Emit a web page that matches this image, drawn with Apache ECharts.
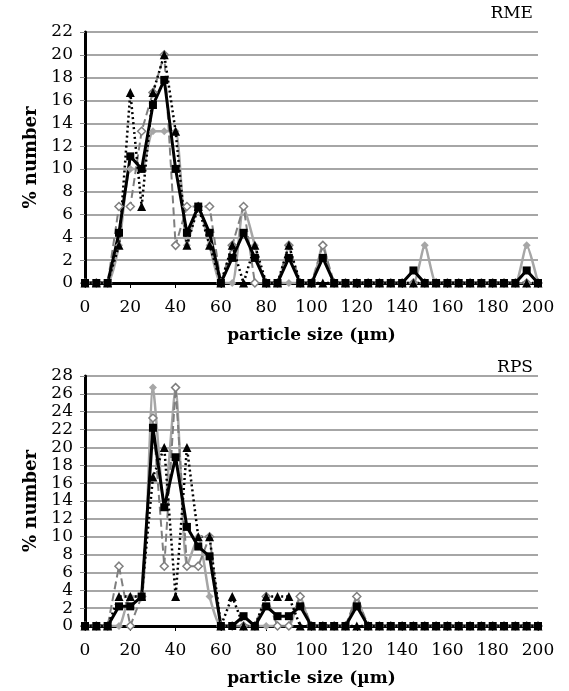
<!DOCTYPE html>
<html>
<head>
<meta charset="utf-8">
<script src="https://cdn.jsdelivr.net/npm/echarts@6/dist/echarts.min.js"></script>
<style>
  html, body { margin: 0; padding: 0; background: #fff; }
  #chart { width: 569px; height: 691px; }
</style>
</head>
<body>
<div id="chart"></div>
<script>
// particle size bins (µm)
const sizes = [0, 5, 10, 15, 20, 25, 30, 35, 40, 45, 50, 55, 60, 65, 70, 75, 80, 85, 90, 95, 100,
  105, 110, 115, 120, 125, 130, 135, 140, 145, 150, 155, 160, 165, 170, 175, 180, 185, 190, 195, 200];
const xTicks = [0, 20, 40, 60, 80, 100, 120, 140, 160, 180, 200];

// RME
const rmeA = [0, 0, 0, 3.3, 10, 10, 13.3, 13.3, 13.3, 3.3, 6.7, 3.3, 0, 0, 6.7, 3.3, 0, 0, 0, 0, 0,
  3.3, 0, 0, 0, 0, 0, 0, 0, 0, 3.3, 0, 0, 0, 0, 0, 0, 0, 0, 3.3, 0];
const rmeB = [0, 0, 0, 6.7, 6.7, 13.3, 16.7, 20, 3.3, 6.7, 6.7, 6.7, 0, 3.3, 6.7, 0, 0, 0, 3.3, 0, 0,
  3.3, 0, 0, 0, 0, 0, 0, 0, 0, 0, 0, 0, 0, 0, 0, 0, 0, 0, 0, 0];
const rmeC = [0, 0, 0, 3.3, 16.7, 6.7, 16.7, 20, 13.3, 3.3, 6.7, 3.3, 0, 3.3, 0, 3.3, 0, 0, 3.3, 0, 0,
  0, 0, 0, 0, 0, 0, 0, 0, 0, 0, 0, 0, 0, 0, 0, 0, 0, 0, 0, 0];
const rmeMean = [0, 0, 0, 4.4, 11.1, 10, 15.6, 17.8, 10, 4.4, 6.7, 4.4, 0, 2.2, 4.4, 2.2, 0, 0, 2.2, 0, 0,
  2.2, 0, 0, 0, 0, 0, 0, 0, 1.1, 0, 0, 0, 0, 0, 0, 0, 0, 0, 1.1, 0];

// RPS
const rpsA = [0, 0, 0, 0, 3.3, 3.3, 26.7, 13.3, 26.7, 6.7, 10, 3.3, 0, 0, 0, 0, 0, 0, 0, 3.3, 0,
  0, 0, 0, 3.3, 0, 0, 0, 0, 0, 0, 0, 0, 0, 0, 0, 0, 0, 0, 0, 0];
const rpsB = [0, 0, 0, 6.7, 0, 3.3, 23.3, 6.7, 26.7, 6.7, 6.7, 10, 0, 0, 0, 0, 3.3, 0, 0, 3.3, 0,
  0, 0, 0, 3.3, 0, 0, 0, 0, 0, 0, 0, 0, 0, 0, 0, 0, 0, 0, 0, 0];
const rpsC = [0, 0, 0, 3.3, 3.3, 3.3, 16.7, 20, 3.3, 20, 10, 10, 0, 3.3, 0, 0, 3.3, 3.3, 3.3, 0, 0,
  0, 0, 0, 0, 0, 0, 0, 0, 0, 0, 0, 0, 0, 0, 0, 0, 0, 0, 0, 0];
const rpsMean = [0, 0, 0, 2.2, 2.2, 3.3, 22.2, 13.3, 18.9, 11.1, 8.9, 7.8, 0, 0, 1.1, 0, 2.2, 1.1, 1.1, 2.2, 0,
  0, 0, 0, 2.2, 0, 0, 0, 0, 0, 0, 0, 0, 0, 0, 0, 0, 0, 0, 0, 0];

const FONT = '"DejaVu Serif", "Liberation Serif", serif';
const pairs = (vals) => sizes.map((s, i) => [s, vals[i]]);

function xAxisFor(gridIndex) {
  return {
    type: 'value',
    gridIndex,
    min: 0,
    max: 200,
    interval: 20,
    name: 'particle size (µm)',
    nameLocation: 'middle',
    nameGap: 44,
    nameTextStyle: { fontFamily: FONT, fontSize: 17, fontWeight: 'bold', color: '#000' },
    axisLine: { lineStyle: { color: '#000', width: 3 } },
    axisTick: { show: true, length: 5, lineStyle: { color: '#000', width: 1 } },
    axisLabel: {
      fontFamily: FONT, fontSize: 17, color: '#000', margin: 16,
      formatter: (v) => (xTicks.includes(v) ? String(v) : ''),
    },
    splitLine: { show: false },
  };
}

function yAxisFor(gridIndex, max) {
  return {
    type: 'value',
    gridIndex,
    min: 0,
    max,
    interval: 2,
    name: '% number',
    nameLocation: 'middle',
    nameGap: 45,
    nameTextStyle: { fontFamily: FONT, fontSize: 18, fontWeight: 'bold', color: '#000' },
    axisLine: { show: true, lineStyle: { color: '#000', width: 3 } },
    axisTick: { show: true, length: 5, lineStyle: { color: '#888', width: 1 } },
    axisLabel: { fontFamily: FONT, fontSize: 17, color: '#000', margin: 12 },
    splitLine: { show: true, lineStyle: { color: '#a6a6a6', width: 2 } },
  };
}

function seriesFor(idx, a, b, c, mean) {
  return [
    {
      type: 'line', xAxisIndex: idx, yAxisIndex: idx, data: pairs(a),
      smooth: 0.2, symbol: 'diamond', symbolSize: 8,
      lineStyle: { color: '#a6a6a6', width: 2.5 },
      itemStyle: { color: '#a6a6a6' },
    },
    {
      type: 'line', xAxisIndex: idx, yAxisIndex: idx, data: pairs(b),
      symbol: 'diamond', symbolSize: 8,
      lineStyle: { color: '#7f7f7f', width: 2, type: [8, 4] },
      itemStyle: { color: '#fff', borderColor: '#7f7f7f', borderWidth: 1.5 },
    },
    {
      type: 'line', xAxisIndex: idx, yAxisIndex: idx, data: pairs(c),
      symbol: 'triangle', symbolSize: 9,
      lineStyle: { color: '#000', width: 2.5, type: [2, 3] },
      itemStyle: { color: '#000' },
    },
    {
      type: 'line', xAxisIndex: idx, yAxisIndex: idx, data: pairs(mean),
      symbol: 'rect', symbolSize: 8,
      lineStyle: { color: '#000', width: 3 },
      itemStyle: { color: '#000' },
    },
  ];
}

const chart = echarts.init(document.getElementById('chart'));
chart.setOption({
  animation: false,
  backgroundColor: '#fff',
  title: [
    { text: 'RME', right: 31, top: 0, textStyle: { fontFamily: FONT, fontSize: 17, fontWeight: 'normal', color: '#000' } },
    { text: 'RPS', right: 31, top: 354, textStyle: { fontFamily: FONT, fontSize: 17, fontWeight: 'normal', color: '#000' } },
  ],
  grid: [
    { left: 85, right: 31, top: 32, height: 251 },
    { left: 85, right: 31, top: 376, height: 250 },
  ],
  xAxis: [xAxisFor(0), xAxisFor(1)],
  yAxis: [yAxisFor(0, 22), yAxisFor(1, 28)],
  series: [
    ...seriesFor(0, rmeA, rmeB, rmeC, rmeMean),
    ...seriesFor(1, rpsA, rpsB, rpsC, rpsMean),
  ],
});
</script>
</body>
</html>
